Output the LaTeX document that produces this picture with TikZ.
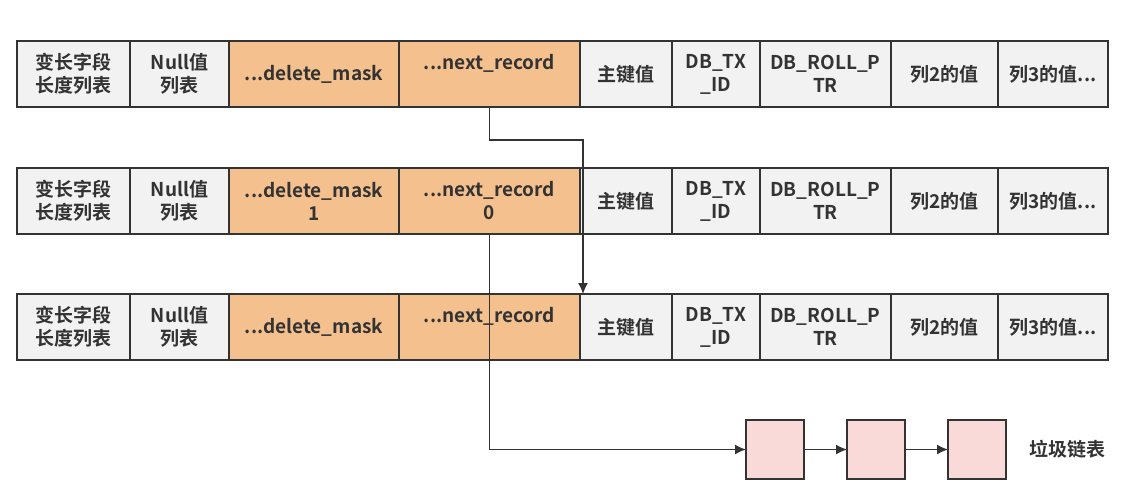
\documentclass[tikz,border=0pt]{standalone}
\usepackage{fontspec}
\setmainfont{Noto Sans CJK SC}[BoldFont={Noto Sans CJK SC Bold}]
\usepackage{xcolor}
\usepackage{tikz}
\usetikzlibrary{shapes,arrows.meta,positioning}
\definecolor{cellgray}{HTML}{F2F2F2}
\definecolor{maskorange}{HTML}{F4C08E}
\definecolor{trashpink}{HTML}{F9DAD8}
\definecolor{inkgray}{HTML}{333333}
\tikzset{
    cell/.style={rectangle, draw=inkgray, fill=cellgray, line width=0.7pt, outer sep=0pt, minimum height=33pt, inner sep=0pt, align=center, text=inkgray, font=\fontsize{9.5}{11.5}\selectfont\bfseries},
    hot/.style={cell, fill=maskorange},
    trash/.style={rectangle, draw=inkgray, fill=trashpink, line width=0.7pt, outer sep=0pt, minimum width=29pt, minimum height=29.5pt},
    line/.style={draw=inkgray, -{Latex[length=5.5pt,width=5pt]}, line width=0.7pt}
}

\begin{document}
\begin{tikzpicture}[x=0.5pt, y=-0.5pt, node distance=0pt]
    \useasboundingbox (0,0) rectangle (1122,489);
    % three versions of the same record
    \foreach \r/\y/\dm/\nr in {1/41/{...delete\_mask}/{...next\_record\\\phantom{0}},
                              2/168/{...delete\_mask\\1}/{...next\_record\\0},
                              3/294/{...delete\_mask}/{...next\_record\\\phantom{0}}}{
        \node[cell, anchor=north west, minimum width=56.5pt] (r\r c1) at (17,\y) {变长字段\\长度列表};
        \node[cell, minimum width=49.5pt, right=of r\r c1] (r\r c2) {Null值\\列表};
        \node[hot, minimum width=85pt, right=of r\r c2] (r\r c3) {\dm};
        \node[hot, minimum width=90.5pt, right=of r\r c3] (r\r c4) {\nr};
        \node[cell, minimum width=46pt, right=of r\r c4] (r\r c5) {主键值};
        \node[cell, minimum width=44pt, right=of r\r c5] (r\r c6) {DB\_TX\\\_ID};
        \node[cell, minimum width=65.5pt, right=of r\r c6] (r\r c7) {DB\_ROLL\_P\\TR};
        \node[cell, minimum width=53.5pt, right=of r\r c7] (r\r c8) {列2的值};
        \node[cell, minimum width=55pt, right=of r\r c8] (r\r c9) {列3的值...};
    }
    % garbage list
    \node[trash, anchor=north west] (g1) at (746,420) {};
    \node[trash, right=21.5pt of g1] (g2) {};
    \node[trash, right=21.5pt of g2] (g3) {};
    \node[right=8pt of g3, text=inkgray, font=\fontsize{9.5}{11.5}\selectfont\bfseries] (trashlabel) {垃圾链表};

    \coordinate (bend1) at (583,140);
    \draw[line] (r1c4.south) |- (bend1) -- (bend1 |- r3c5.north);
    \draw[line] (r2c4.south) |- (g1.west);
    \draw[line] (g1) -- (g2);
    \draw[line] (g2) -- (g3);
\end{tikzpicture}
\end{document}
